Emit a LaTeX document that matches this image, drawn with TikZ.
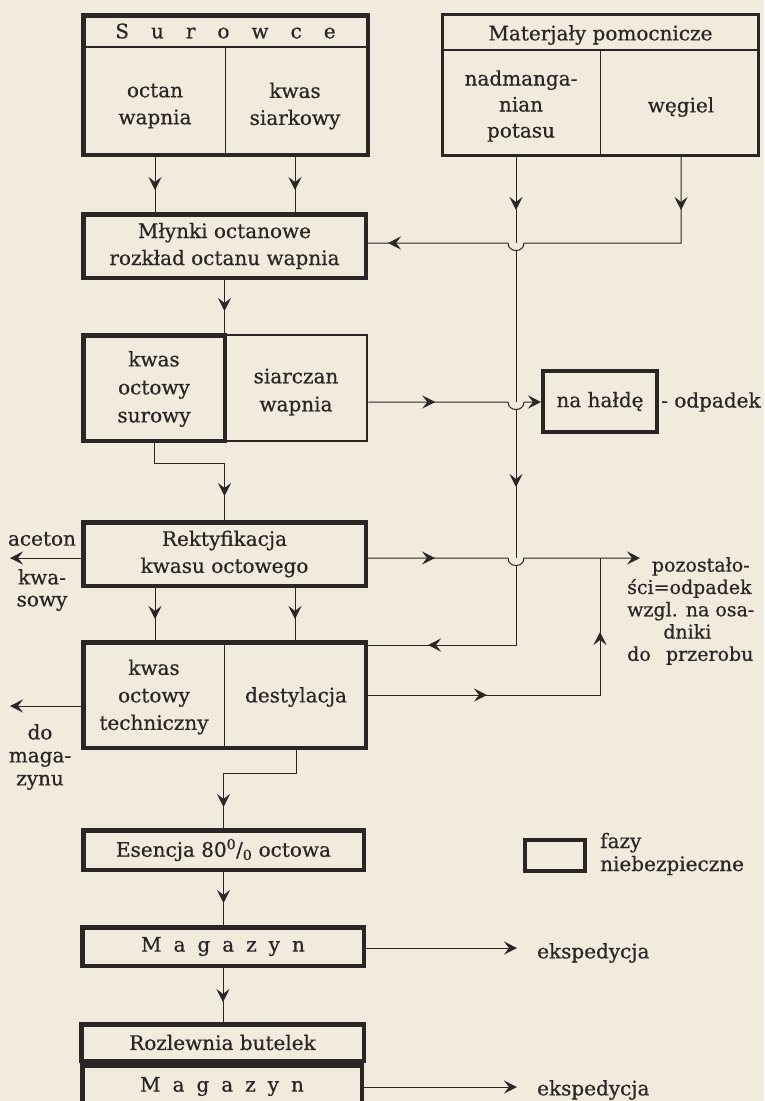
\documentclass[tikz,border=0pt]{standalone}
\usepackage{fontspec}
\setmainfont{DejaVu Serif}[FakeBold=0.6]
\usetikzlibrary{arrows.meta}
\usetikzlibrary{calc}
\usetikzlibrary{decorations.markings}
\usetikzlibrary{positioning}
\definecolor{papier}{RGB}{240,235,221}
\definecolor{tinte}{RGB}{42,38,38}
\newcommand{\odst}{\hspace{0.6em}}
\newcommand{\odstw}{\hspace{1.1em}}
\tikzset{pf/.tip={Stealth[length=13pt,width=13pt,inset=5pt]}}
\tikzset{every picture/.style={x=1pt,y=-1pt},
every node/.style={font=\fontsize{20}{27}\selectfont,text=tinte,inner sep=0pt},
gruba/.style={draw=tinte,line width=4.5pt},
srednia/.style={draw=tinte,line width=2.6pt},
cienka/.style={draw=tinte,line width=1.3pt},
linia/.style={tinte,line width=1pt},
mpf/.style={postaction={decorate,decoration={markings,mark=at position #1 with {\arrow{pf}}}}}}

\begin{document}
\begin{tikzpicture}
\useasboundingbox (0,0) rectangle (764,1101);
\fill[papier] (0,0) rectangle (764,1101);

% surowce / materjaly
\node[gruba, minimum width=284.5pt, minimum height=139.5pt] (surowce) at (225.5,85) {};
\draw[cienka] ([yshift=-34pt]surowce.north west) -- ([yshift=-34pt]surowce.north east);
\draw[cienka] ([yshift=-34pt]surowce.north) -- (surowce.south);
\node (sur) at (225.5,31) {S\odstw u\odstw r\odstw o\odstw w\odstw c\odstw e};
\node[align=center] (octan) at (155,106) {octan\\wapnia};
\node[align=center] (kwass) at (295,106) {kwas\\siarkowy};

\node[srednia, line width=3pt, minimum width=316pt, minimum height=141pt] (mat) at (600.5,85) {};
\draw[cienka] ([yshift=-37pt]mat.north west) -- ([yshift=-37pt]mat.north east);
\draw[cienka] ([yshift=-37pt]mat.north) -- (mat.south);
\node (mattyt) at (600.5,35) {Materjały pomocnicze};
\node[align=center, font=\fontsize{20}{26}\selectfont] (nadm) at (521,106) {nadmanga-\\nian\\potasu};
\node (wegiel) at (681,107) {węgiel};

% fazy procesu
\node[gruba, minimum width=282.5pt, minimum height=63.5pt, align=center] (mlynki) at (224.5,246) {Młynki octanowe\\rozkład octanu wapnia};
\node[srednia, minimum width=141pt, minimum height=106pt] (siarczan) at (296.5,388) {};
\node[gruba, minimum width=141.5pt, minimum height=105.5pt] (surowy) at (154,388) {};
\node[align=center, font=\fontsize{20}{28}\selectfont] (kos) at (154,389) {kwas\\octowy\\surowy};
\node[align=center, font=\fontsize{20}{28}\selectfont] (siarcz) at (296,392) {siarczan\\wapnia};
\node[gruba, line width=4pt, minimum width=114pt, minimum height=61pt] (halde) at (600,401.5) {na hałdę};
\node[anchor=west] (odp) at (661,402) {- odpadek};

\node[gruba, minimum width=282.5pt, minimum height=63.5pt, align=center] (rekt) at (224.5,554) {Rektyfikacja\\kwasu octowego};
\node (aceton) at (42,539) {aceton};
\node[align=center, font=\fontsize{20}{22}\selectfont] (kwasowy) at (42,590) {kwa-\\sowy};
\node[align=left, anchor=west, font=\fontsize{19}{22.3}\selectfont] (pozost) at (627,611)
  {\hspace*{1.3em}pozostało-\\ści=odpadek\\wzgl. na osa-\\\hspace*{1.9em}dniki\\do\hspace{0.8em}przerobu};

\node[gruba, minimum width=282.5pt, minimum height=105.5pt] (techn) at (224.5,695) {};
\draw[cienka] (techn.north) -- (techn.south);
\node[align=center, font=\fontsize{20}{27.5}\selectfont] (kwtech) at (154,697) {kwas\\octowy\\techniczny};
\node (destyl) at (296,697) {destylacja};
\node[align=center, font=\fontsize{20}{23}\selectfont] (domag) at (40,757) {do\\maga-\\zynu};

\node[gruba, minimum width=280.5pt, minimum height=39.5pt] (esencja) at (223.5,850) {Esencja 80\textsuperscript{0}/\textsubscript{0} octowa};
\node[gruba, minimum width=281.5pt, minimum height=38.5pt] (mag1) at (223,946.5) {M\odst a\odst g\odst a\odst z\odst y\odst n};
\node[gruba, minimum width=282.5pt, minimum height=36.5pt] (rozl) at (222.5,1042.5) {Rozlewnia butelek};
\node[gruba, minimum width=279.5pt, minimum height=72.5pt] (mag2) at (222,1101.5) {};
\node (mag2t) at (222,1086.5) {M\odst a\odst g\odst a\odst z\odst y\odst n};
\node[anchor=west] (eksp1) at (537,953) {ekspedycja};
\node[anchor=west] (eksp2) at (537,1090) {ekspedycja};

% legenda
\node[gruba, line width=4pt, minimum width=60pt, minimum height=31pt] (legenda) at (555,855.5) {};
\node[align=left, anchor=west, font=\fontsize{20}{23}\selectfont] (fazy) at (600,854) {fazy\\niebezpieczne};

% punkty pomocnicze
\coordinate (k1) at (516,243);
\coordinate (k2) at (516,402);
\coordinate (k3) at (516,558);
\coordinate (k4) at ([yshift=-5pt]techn.north east);
\coordinate (ru) at (600,558);
\coordinate (rest) at (640,558);
\coordinate (al) at (10,558);
\coordinate (ml) at (10,706);
\coordinate (e1) at (517,948);
\coordinate (e2) at (517,1087);

% polaczenia
\foreach \k in {octan,kwass} {
\draw[linia, mpf=33pt] (surowce.south -| \k) -- (mlynki.north -| \k);
\draw[linia, mpf=31pt] (rekt.south -| \k) -- (techn.north -| \k);
}
\draw[linia, mpf=53pt] (k1 |- mat.south) -- (k1);
\draw[linia, mpf=53pt, mpf=-20pt] (wegiel |- mat.south) -- (wegiel |- k1) -- ([xshift=8pt]k1)
  .. controls +(0,10) and +(0,10) .. ([xshift=-8pt]k1) -- (k1 -| mlynki.east);
\draw[linia] ([yshift=-8pt]k1) -- (k2);
\draw[linia, mpf=77pt] ([yshift=-8pt]k2) -- (k3);
\draw[linia, mpf=-60pt] ([yshift=-8pt]k3) -- (k3 |- k4) -- (k4);

\draw[linia, mpf=31pt] (mlynki.south) -- (mlynki.south |- siarczan.north);
\draw[linia, mpf=67pt, -{pf}] (k2 -| siarczan.east) -- ([xshift=-8pt]k2)
  .. controls +(0,10) and +(0,10) .. ([xshift=8pt]k2) -- (k2 -| halde.west);
\draw[linia, mpf=-24pt] (surowy.south) -- ++(0,20) -| (rekt.north);

\draw[linia, -{pf}] (rekt.west |- k3) -- (al);
\draw[linia, mpf=67pt, -{pf}] (rekt.east |- k3) -- ([xshift=-8pt]k3)
  .. controls +(0,10) and +(0,10) .. ([xshift=8pt]k3) -- (rest);
\draw[linia, mpf=119pt, mpf=-74pt] (techn.east) -| (ru);
\draw[linia, -{pf}] (ml -| techn.west) -- (ml);
\draw[linia, mpf=-21pt] (techn.south -| destyl) -- ++(0,23) -| (esencja.north);

\draw[linia, mpf=31pt] (esencja.south) -- (esencja.south |- mag1.north);
\draw[linia, -{pf}] (e1 -| mag1.east) -- (e1);
\draw[linia, mpf=34pt] (mag1.south) -- (mag1.south |- rozl.north);
\draw[linia, -{pf}] (e2 -| mag2.east) -- (e2);
%\draw[linia] (legenda.east) -- (fazy.west);
\end{tikzpicture}
\end{document}
